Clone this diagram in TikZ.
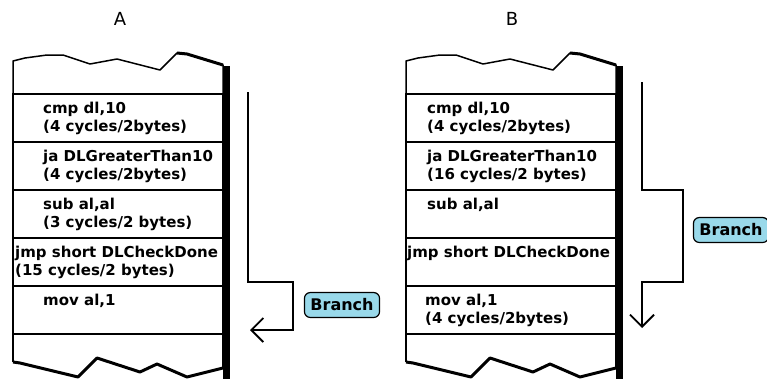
\documentclass[tikz,border=0pt]{standalone}
\usepackage{fontspec}
\setmainfont{DejaVu Sans}
\usetikzlibrary{positioning,arrows.meta}
\definecolor{branchblue}{RGB}{153,217,234}
\newcommand{\codefont}{\fontsize{15}{18}\selectfont\bfseries}

\begin{document}
\begin{tikzpicture}[
    x=1pt, y=-1pt,
    cell/.style={rectangle, draw, line width=1.5pt, minimum width=210pt, minimum height=48pt, inner sep=0pt, outer sep=0pt},
    code/.style={align=left, inner sep=0pt, font=\codefont},
    title/.style={font=\fontsize{18}{20}\selectfont},
    branch/.style={rectangle, draw, line width=1.2pt, rounded corners=6pt, fill=branchblue, minimum width=72pt, minimum height=25pt, inner xsep=6pt, font=\fontsize{16}{18}\selectfont\bfseries},
    frame/.style={line width=1.5pt, line join=round},
    flow/.style={line width=1.8pt, -{Straight Barb[length=12pt, width=24pt]}}
]
    \useasboundingbox (0,0) rectangle (767,383);

    % Titles
    \node[title] (titleA) at (120,19) {A};
    \node[title] (titleB) at (512,19) {B};

    % Stack A
    \node[cell] (a1) at (118,118) {};
    \node[cell, below=0pt of a1] (a2) {};
    \node[cell, below=0pt of a2] (a3) {};
    \node[cell, below=0pt of a3] (a4) {};
    \node[cell, below=0pt of a4] (a5) {};

    \node[code, right=30pt of a1.west] (ta1) {cmp dl,10\\(4 cycles/2bytes)};
    \node[code, right=30pt of a2.west] (ta2) {ja DLGreaterThan10\\(4 cycles/2bytes)};
    \node[code, right=30pt of a3.west] (ta3) {sub al,al\\(3 cycles/2 bytes)};
    \node[code, right=2pt of a4.west] (ta4) {jmp short DLCheckDone\\(15 cycles/2 bytes)};
    \node[code, right=30pt of a5.west] (ta5) {mov al,1\\\phantom{(}};

    % torn ends and shadow of A
    \draw[frame] (a1.north west) -- (13,61) -- (25,58) -- (47,55) -- (63,55) -- (90,64) -- (117,59) -- (160,70) -- (177,53) -- (187,54) -- (223,65) -- (a1.north east);
    \draw[line width=3pt, line join=round] (177,53) -- (187,54) -- (223,65);
    \draw[line width=3pt, line join=round] (13,362) -- (20,363) -- (78,377) -- (97,358) -- (140,372) -- (157,364) -- (187,377) -- (207,372) -- (223,368);
    \draw[frame] (a5.south west) -- (13,362);
    \draw[frame] (a5.south east) -- (223,368);
    \fill (223,66) rectangle (230,379);

    % Stack B
    \node[cell] (b1) at (511,118) {};
    \node[cell, below=0pt of b1] (b2) {};
    \node[cell, below=0pt of b2] (b3) {};
    \node[cell, below=0pt of b3] (b4) {};
    \node[cell, below=0pt of b4] (b5) {};

    \node[code, right=21pt of b1.west] (tb1) {cmp dl,10\\(4 cycles/2bytes)};
    \node[code, right=21pt of b2.west] (tb2) {ja DLGreaterThan10\\(16 cycles/2 bytes)};
    \node[code, right=21pt of b3.west] (tb3) {sub al,al\\\phantom{(}};
    \node[code, right=1pt of b4.west] (tb4) {jmp short DLCheckDone\\\phantom{(}};
    \node[code, right=19pt of b5.west] (tb5) {mov al,1\\(4 cycles/2bytes)};

    % torn ends and shadow of B
    \draw[frame] (b1.north west) -- (406,61) -- (418,58) -- (440,55) -- (456,55) -- (483,64) -- (510,59) -- (553,70) -- (570,53) -- (580,54) -- (616,65) -- (b1.north east);
    \draw[line width=3pt, line join=round] (570,53) -- (580,54) -- (616,65);
    \draw[line width=3pt, line join=round] (406,362) -- (413,363) -- (471,377) -- (490,358) -- (533,372) -- (550,364) -- (580,377) -- (600,372) -- (616,368);
    \draw[frame] (b5.south west) -- (406,362);
    \draw[frame] (b5.south east) -- (616,368);
    \fill (616,66) rectangle (623,379);

    % Branch arrows
    \coordinate (fromA) at (248,92);
    \coordinate (toA) at (250,330);
    \draw[flow] (fromA) |- (293,282) |- (toA);
    \node[branch] (brA) at (342,305) {Branch};

    \coordinate (fromB) at (642,82);
    \coordinate (toB) at (642,328);
    \draw[flow] (fromB) |- (683,190) |- (642,282) -- (toB);
    \node[branch] (brB) at (731,230) {Branch};

\end{tikzpicture}
\end{document}
